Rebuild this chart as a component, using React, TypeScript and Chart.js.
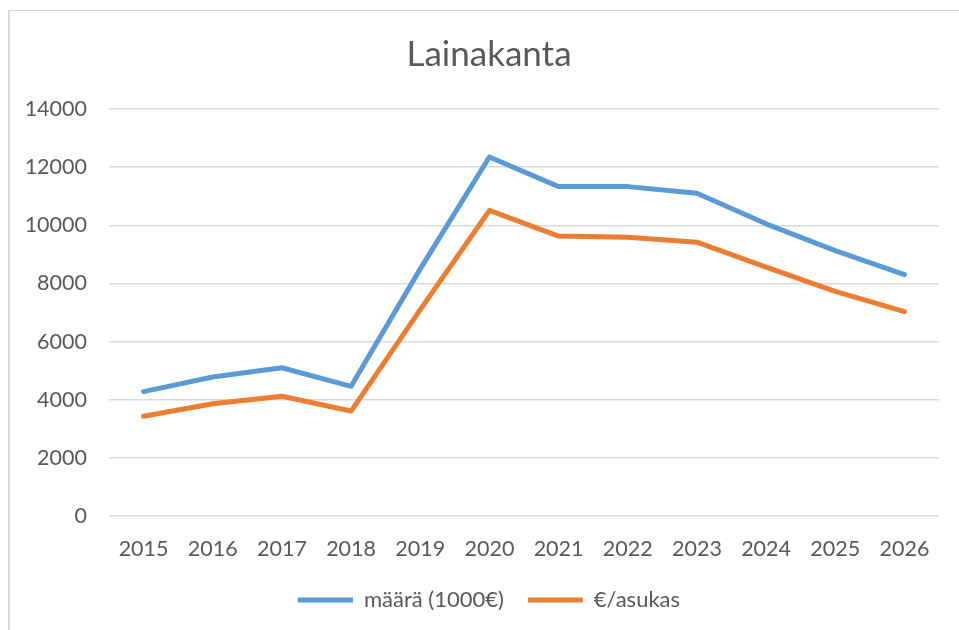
import React, { useEffect, useRef } from "react";
import { Chart, registerables } from "chart.js";

Chart.register(...registerables);

const TITLE = "Lainakanta";
const YEARS = ["2015", "2016", "2017", "2018", "2019", "2020", "2021", "2022", "2023", "2024", "2025", "2026"];
const MAARA = [4280, 4780, 5100, 4460, 8500, 12350, 11330, 11330, 11100, 10050, 9130, 8300];
const ASUKAS = [3430, 3860, 4120, 3610, 7100, 10510, 9630, 9590, 9420, 8560, 7730, 7030];
const SERIES_NAMES = ["määrä (1000€)", "€/asukas"];
const COLORS = ["#5b9bd5", "#ed7d31"];
const TEXT = "#595959";
const GRID = "#d9d9d9";
const FONT = "Lato";

const borderPlugin = {
  id: "frameBorder",
  beforeDraw(chart: any) {
    const ctx = chart.ctx;
    ctx.save();
    ctx.fillStyle = "#ffffff";
    ctx.fillRect(0, 0, chart.width, chart.height);
    ctx.fillStyle = GRID;
    ctx.fillRect(8, 10, 2, chart.height);
    ctx.fillRect(8, 10, chart.width, 1);
    ctx.restore();
  },
};

export default function App() {
  const ref = useRef<HTMLCanvasElement>(null);
  useEffect(() => {
    document.body.style.margin = "0";
    const chart = new Chart(ref.current!, {
      type: "line",
      data: {
        labels: YEARS,
        datasets: [MAARA, ASUKAS].map((d, i) => ({
          label: SERIES_NAMES[i],
          data: d,
          borderColor: COLORS[i],
          backgroundColor: COLORS[i],
          borderWidth: 5,
          pointRadius: 0,
          tension: 0,
          borderCapStyle: "round" as const,
          borderJoinStyle: "round" as const,
        })),
      },
      options: {
        responsive: false,
        animation: false,
        layout: { padding: { left: 19, right: 0, top: 0, bottom: 9 } },
        plugins: {
          title: {
            display: true,
            text: TITLE,
            color: TEXT,
            font: { family: FONT, size: 35, weight: "normal" },
            padding: { top: 34, bottom: 33 },
          },
          legend: {
            position: "bottom",
            labels: {
              color: TEXT,
              font: { family: FONT, size: 22 },
              boxWidth: 55,
              boxHeight: 5,
              padding: 24,
              generateLabels(chart: any) {
                const items = Chart.defaults.plugins.legend.labels.generateLabels(chart);
                return items.map((it: any) => ({ ...it, lineWidth: 0 }));
              },
            },
          },
          tooltip: { enabled: false },
        },
        scales: {
          x: {
            offset: true,
            grid: { display: false, drawTicks: false },
            border: { display: false },
            ticks: { color: TEXT, font: { family: FONT, size: 21.5 }, padding: 20, maxRotation: 0 },
            afterFit(scale: any) {
              scale.height = 49;
            },
          },
          y: {
            min: 0,
            max: 14000,
            ticks: {
              stepSize: 2000,
              color: TEXT,
              font: { family: FONT, size: 21.5 },
              padding: 22,
              callback: (v: any) => String(v),
            },
            grid: { color: GRID, lineWidth: 1.5, drawTicks: false },
            border: { display: false },
            afterFit(scale: any) {
              scale.width = 90;
            },
          },
          yRight: {
            position: "right",
            display: true,
            grid: { display: false, drawTicks: false },
            border: { display: false },
            ticks: { display: false },
            afterFit(scale: any) {
              scale.width = 20;
            },
          },
        },
      },
      plugins: [borderPlugin],
    });
    return () => chart.destroy();
  }, []);
  return <canvas ref={ref} width={959} height={630} style={{ display: "block" }} />;
}
